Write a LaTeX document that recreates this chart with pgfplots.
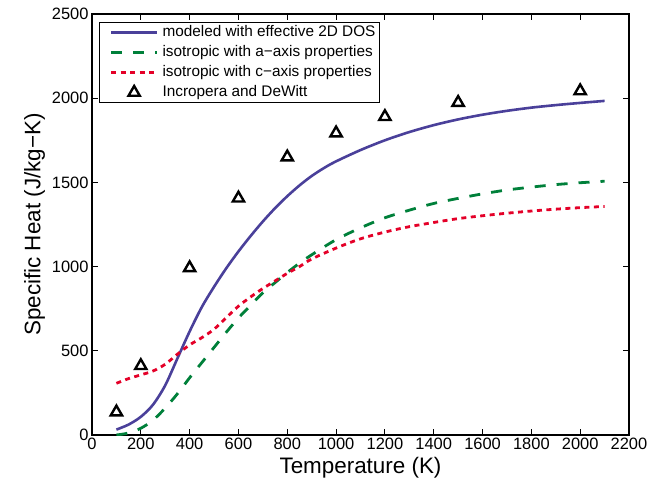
\documentclass[border=0pt]{standalone}
\usepackage{fontspec}
\setmainfont{Liberation Sans}
\usepackage{pgfplots}
\pgfplotsset{compat=1.18}
\usetikzlibrary{calc}
\definecolor{modelblue}{RGB}{74,64,154}
\definecolor{agreen}{RGB}{0,128,58}
\definecolor{cred}{RGB}{228,0,40}

\begin{document}
\begin{tikzpicture}
\begin{axis}[
  name=ax,
  scale only axis, width=537bp, height=421bp,
  xmin=0, xmax=2200, ymin=0, ymax=2500,
  xtick={0,200,...,2200}, ytick={0,500,...,2500},
  tick align=inside, xtick pos=both, ytick pos=both,
  major tick length=6bp,
  every tick/.style={black, line width=1.1bp},
  axis line style={line width=1.5bp},
  tick label style={font=\fontsize{16.5}{19}\selectfont},
  /pgf/number format/assume math mode=true,
  /pgf/number format/1000 sep={},
  xlabel={Temperature (K)},
  ylabel={Specific Heat (J/kg−K)},
  label style={font=\fontsize{22.5}{26}\selectfont},
  legend style={at={(rel axis cs:0.0135,0.981)}, anchor=north west,
    draw=black, line width=1bp, fill=white,
    font=\fontsize{15.4}{18}\selectfont,
    inner xsep=2bp, inner ysep=0bp, row sep=0pt,
    nodes={inner xsep=2bp, inner ysep=2.5bp, text height=11.5bp, text depth=3.5bp},
    cells={anchor=west}},
  legend image code/.code={%
    \path (0bp,0bp) (56bp,0bp);
    \draw[mark repeat=2, mark phase=2, #1] plot coordinates {(8bp,0bp) (31bp,0bp) (54bp,0bp)};},
]
% modeled with effective 2D DOS
\addplot[modelblue, line width=2.6bp, smooth] coordinates {
  (100,32) (150,62) (200,108) (250,180) (300,295) (350,455) (400,615)
  (450,760) (500,880) (550,990) (600,1090) (650,1182) (700,1268)
  (750,1347) (800,1418) (850,1482) (900,1538) (950,1585) (1000,1625)
  (1100,1692) (1200,1750) (1300,1799) (1400,1840) (1500,1874)
  (1600,1902) (1700,1925) (1800,1944) (1900,1959) (2000,1972) (2100,1984)
};
\addlegendentry{modeled with effective 2D DOS}

% isotropic, a-axis
\addplot[agreen, line width=2.8bp, dash pattern=on 11bp off 11bp, smooth] coordinates {
  (100,0) (150,12) (200,40) (250,88) (300,160) (350,245) (400,340)
  (450,430) (500,520) (550,610) (600,695) (650,770) (700,845) (750,905)
  (800,965) (850,1020) (900,1070) (1000,1160) (1100,1230) (1200,1290)
  (1300,1335) (1400,1375) (1500,1405) (1600,1432) (1700,1455)
  (1800,1472) (1900,1487) (2000,1498) (2100,1507)
};
\addlegendentry{isotropic with a−axis properties}

% isotropic, c-axis
\addplot[cred, line width=2.8bp, dash pattern=on 5bp off 4.5bp, smooth] coordinates {
  (100,307) (150,335) (200,357) (250,380) (300,420) (350,480) (400,535)
  (450,578) (500,628) (550,697) (600,765) (650,820) (700,870) (750,915)
  (800,960) (850,1000) (900,1045) (1000,1110) (1100,1165) (1200,1205)
  (1300,1237) (1400,1262) (1500,1285) (1600,1302) (1700,1317)
  (1800,1330) (1900,1341) (2000,1350) (2100,1357)
};
\addlegendentry{isotropic with c−axis properties}

% Incropera and DeWitt
\addplot[only marks, mark=triangle*, mark size=6.5bp,
  mark options={draw=black, fill=white, line width=2.4bp}] coordinates {
  (100,136) (200,411) (400,992) (600,1406) (800,1650)
  (1000,1793) (1200,1890) (1500,1974) (2000,2043)
};
\addlegendentry{Incropera and DeWitt}
\end{axis}
\pgfresetboundingbox
\path ($(ax.south west)+(-92bp,-57bp)$) rectangle ($(ax.north east)+(20bp,14bp)$);
\end{tikzpicture}
\end{document}
